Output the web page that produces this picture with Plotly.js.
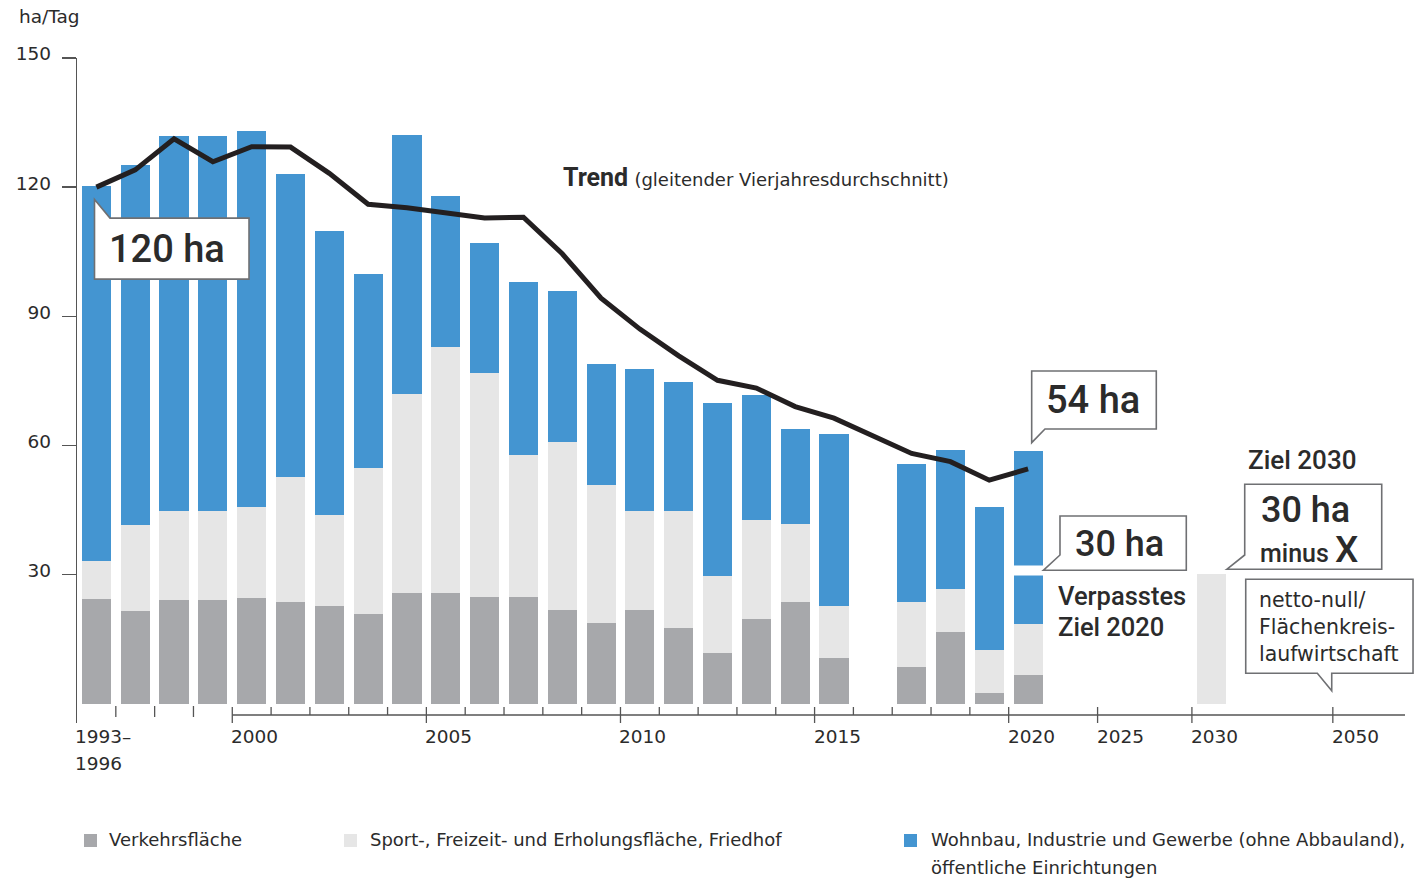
<!DOCTYPE html>
<html><head><meta charset="utf-8">
<script src="https://cdn.plot.ly/plotly-3.0.1.min.js"></script>
<style>html,body{margin:0;padding:0;background:#fff}#chart{width:1414px;height:879px}</style>
</head><body><div id="chart"></div>
<script>
// ---------------- data ----------------
const barLabels = ['1993–1996','1997','1998','1999','2000','2001','2002','2003','2004','2005','2006','2007','2008','2009','2010','2011','2012','2013','2014','2015','2017','2018','2019','2020'];
const barSlots  = [1996,1997,1998,1999,2000,2001,2002,2003,2004,2005,2006,2007,2008,2009,2010,2011,2012,2013,2014,2015,2017,2018,2019,2020];
const verkehr = [24.3,21.5,24.0,24.0,24.6,23.6,22.7,20.7,25.7,25.7,24.7,24.7,21.7,18.7,21.7,17.6,11.7,19.6,23.6,10.6,8.6,16.6,2.5,6.6];
const sport   = [8.8,19.9,20.7,20.7,21.1,29.1,21.0,34.1,46.3,57.2,52.2,33.1,39.1,32.1,23.1,27.2,18.0,23.0,18.0,12.1,14.9,10.1,10.0,11.9];
const wohnbau = [87.2,83.7,87.1,87.1,87.3,70.3,66.1,45.0,60.0,35.0,30.0,40.1,35.0,28.0,32.9,29.9,40.1,29.2,22.1,39.9,32.2,32.1,33.1,40.1];
const trendYears = [1996,1997,1998,1999,2000,2001,2002,2003,2004,2005,2006,2007,2008,2009,2010,2011,2012,2013,2014,2015,2016,2017,2018,2019,2020];
const trend = [120,124.0,131.2,125.9,129.4,129.3,123.2,116.0,115.2,114.0,112.8,113.0,104.5,94.2,87.0,80.8,75.1,73.3,69.0,66.3,62.2,58.1,56.2,51.9,54.5];
const ziel2020 = 30;
const ziel2030 = 30;
const ziel2030Year = 2030;
const nettoNullYear = 2050;
const majorTickYears = [2000,2005,2010,2015,2020,2025,2030,2050];
const majorTickLabels = ['2000','2005','2010','2015','2020','2025','2030','2050'];
const firstSlotLabel = ['1993–','1996'];
const yTicks = [30,60,90,120,150];
const legendNames = ['Verkehrsfläche','Sport-, Freizeit- und Erholungsfläche, Friedhof','Wohnbau, Industrie und Gewerbe (ohne Abbauland),<br>öffentliche Einrichtungen'];

// ---------------- styling / layout helpers ----------------
const C = {grey:'#a7a8ab', light:'#e6e6e6', blue:'#4495d1', line:'#231f20', text:'#2b2b2b', axis:'#555555', box:'#6f7073'};
const FONT = 'Roboto, "Liberation Sans", sans-serif';
const SMALL = '"DejaVu Sans", Roboto, sans-serif';
const W = 1414, H = 879, ML = 77, MR = 0, MT = 58, MB = 156;
// compressed time axis after 2020 (piecewise)
const AX = {years:[1996,2020,2025,2030,2050], pos:[1996,2020,2022.29,2024.72,2028.35]};
function xpos(y){
  for(let i=0;i<AX.years.length-1;i++){
    if(y<=AX.years[i+1]){
      const t=(y-AX.years[i])/(AX.years[i+1]-AX.years[i]);
      return AX.pos[i]+t*(AX.pos[i+1]-AX.pos[i]);
    }
  }
  return AX.pos[AX.pos.length-1];
}
const pxPerYear = 38.82;
const xRange = [1996, 1996 + (W-ML-MR)/pxPerYear];
const yRange = [-4.53, 150];
const plotW = W-ML-MR, plotH = H-MT-MB;
const fx = px => (px-ML)/plotW;
const fy = py => (H-MB-py)/plotH;

const shapes = [];
const annotations = [];

// callout box: anchor in data coords, points as screen-pixel offsets (dx right, dy down)
function callout(ax, ay, pts){
  const d = pts.map((p,i)=>(i?'L':'M')+p[0]+','+(-p[1])).join(' ')+' Z';
  shapes.push({type:'path', xref:'x', yref:'y', xsizemode:'pixel', ysizemode:'pixel',
    xanchor:ax, yanchor:ay, path:d, fillcolor:'#ffffff', line:{color:C.box, width:1.6}, layer:'above'});
}
function label(ax, ay, dx, dy, text, font, opts){
  annotations.push(Object.assign({x:ax, y:ay, xref:'x', yref:'y', xshift:dx, yshift:-dy, text:text, showarrow:false,
    xanchor:'center', yanchor:'middle', font:Object.assign({family:FONT, color:C.text}, font)}, opts||{}));
}
// multi-line text with explicit line pitch
function lines(ax, ay, dx, dy, arr, pitch, font, opts){
  arr.forEach((t,i)=>label(ax, ay, dx, dy+i*pitch, t, font, Object.assign({xanchor:'left'}, opts||{})));
}

// ---------------- x axis (custom drawn) ----------------
const tickLine = {color:C.axis, width:1.3};
shapes.push({type:'line', xref:'x', yref:'y', ysizemode:'pixel', yanchor:0, x0:xpos(2000), x1:xRange[1]-9/pxPerYear, y0:-11.5, y1:-11.5, line:tickLine, layer:'above'});
for(let y=1997; y<2020; y++){
  if(y%5===0) continue;
  const early = y<2000;
  shapes.push({type:'line', xref:'x', yref:'y', ysizemode:'pixel', yanchor:0, x0:xpos(y), x1:xpos(y),
    y0: early?-2.5:-3.5, y1: early?-13.5:-11.5, line:tickLine, layer:'above'});
}
const axisFont = {family:SMALL, size:18.5};
majorTickYears.forEach((y,i)=>{
  shapes.push({type:'line', xref:'x', yref:'y', ysizemode:'pixel', yanchor:0, x0:xpos(y), x1:xpos(y), y0:-3.5, y1:-19.5, line:tickLine, layer:'above'});
  label(xpos(y), 0, -3, 32.5, majorTickLabels[i], axisFont, {xanchor:'left'});
});
lines(xRange[0], 0, -4, 32.5, firstSlotLabel, 27, axisFont);

// ---------------- 2020 target gap ----------------
shapes.push({type:'rect', xref:'x', yref:'y', ysizemode:'pixel', yanchor:ziel2020,
  x0:xpos(2020)+0.5-0.42, x1:xpos(2020)+0.5+0.42, y0:-1, y1:9, fillcolor:'#ffffff', line:{width:0}, layer:'above'});

// ---------------- callouts ----------------
const big = size => ({family:FONT, size:size, weight:500});
const t0x = trendYears[0]+0.5, t0y = trend[0];
callout(t0x, t0y, [[-1.9,12.4],[-1.9,92],[152.6,92],[152.6,31],[13.6,31]]);
label(t0x, t0y, 70.6, 61.9, '120 ha', big(38));

const tEx = trendYears[trendYears.length-1]+0.5, tEy = trend[trend.length-1];
callout(tEx, tEy, [[3.6,-26.3],[3.6,-98],[128.2,-98],[128.2,-40],[16.9,-40]]);
label(tEx, tEy, 64.9, -69, '54 ha', big(38));

const z20x = xpos(2020)+0.5;
callout(z20x, ziel2020, [[15.2,-4.1],[31.9,-19.4],[31.9,-58.4],[158.2,-58.4],[158.2,-4.1]]);
label(z20x, ziel2020, 91.9, -30.4, '30 ha', big(36));
lines(z20x, ziel2020, 27.5, 21.6, ['Verpasstes','Ziel 2020'], 31, big(25.5));

const z30x = xpos(ziel2030Year)+0.5;
callout(z30x, ziel2030, [[15.4,-5.1],[33.4,-19.4],[33.4,-90.1],[170.4,-90.1],[170.4,-5.1]]);
label(z30x, ziel2030, 93.7, -64.4, '30 ha', big(36));
label(z30x, ziel2030, 46.7, -25, 'minus <span style="font-size:37px">X</span>', big(25), {xanchor:'left'});
label(z30x, ziel2030, 34.7, -114.4, 'Ziel 2030', big(26), {xanchor:'left'});

const nnx = xpos(nettoNullYear);
callout(nnx, 0, [[-1.1,-12.8],[-1.1,-30.2],[80.2,-30.2],[80.2,-124.2],[-87.1,-124.2],[-87.1,-30.2],[-15.5,-30.2]]);
lines(nnx, 0, -76, -103.5, ['netto-null/','Flächenkreis-','laufwirtschaft'], 27, {family:SMALL, size:20.5});

// ---------------- free texts ----------------
annotations.push({xref:'paper', yref:'paper', x:fx(17), y:fy(16), xanchor:'left', yanchor:'middle', showarrow:false,
  text:'ha/Tag', font:{family:SMALL, size:18.5, color:C.text}});
annotations.push({xref:'paper', yref:'paper', x:fx(561), y:fy(177), xanchor:'left', yanchor:'middle', showarrow:false,
  text:'<b>Trend</b> <span style="font-family:\'DejaVu Sans\';font-size:18px">(gleitender Vierjahresdurchschnitt)</span>', font:{family:FONT, size:25, color:C.text}});

// ---------------- legend (custom) ----------------
const legColors = [C.grey, C.light, C.blue];
const legBoxX = [84, 344, 904], legTextX = [109, 370, 931];
legendNames.forEach((n,i)=>{
  shapes.push({type:'rect', xref:'paper', yref:'paper', x0:fx(legBoxX[i]), x1:fx(legBoxX[i]+13), y0:fy(847), y1:fy(834), fillcolor:legColors[i], line:{width:0}});
  n.split('<br>').forEach((t,j)=>{
    annotations.push({xref:'paper', yref:'paper', x:fx(legTextX[i]-2), y:fy(840+27*j), xanchor:'left', yanchor:'middle', showarrow:false,
      text:t, font:{family:SMALL, size:18, color:C.text}});
  });
});

// ---------------- traces ----------------
const bx = barSlots.map(y=>xpos(y)+0.5);
const barW = 0.75;
const traces = [
  {type:'bar', name:legendNames[0], x:bx, y:verkehr, width:barW, marker:{color:C.grey, line:{width:0}}, customdata:barLabels, hovertemplate:'%{customdata}: %{y} ha<extra></extra>'},
  {type:'bar', name:legendNames[1], x:bx, y:sport, width:barW, marker:{color:C.light, line:{width:0}}, customdata:barLabels, hovertemplate:'%{customdata}: %{y} ha<extra></extra>'},
  {type:'bar', name:legendNames[2], x:bx, y:wohnbau, width:barW, marker:{color:C.blue, line:{width:0}}, customdata:barLabels, hovertemplate:'%{customdata}: %{y} ha<extra></extra>'},
  {type:'bar', name:'Ziel 2030', x:[xpos(ziel2030Year)+0.5], y:[ziel2030], width:barW, marker:{color:C.light, line:{width:0}}},
  {type:'scatter', mode:'lines', name:'Trend', x:trendYears.map(y=>y+0.5), y:trend, line:{color:C.line, width:5, shape:'linear'}}
];

const layout = {
  width:W, height:H, margin:{l:ML, r:MR, t:MT, b:MB, pad:0},
  paper_bgcolor:'#ffffff', plot_bgcolor:'#ffffff',
  barmode:'stack', showlegend:false,
  font:{family:FONT, size:18, color:C.text},
  xaxis:{range:xRange, showgrid:false, zeroline:false, showline:false, showticklabels:false, ticks:'', fixedrange:true},
  yaxis:{range:yRange, showgrid:false, zeroline:false, showline:true, linecolor:C.axis, linewidth:1.3,
    tickvals:yTicks, ticktext:yTicks.map(String), ticks:'outside', ticklen:14, tickwidth:1.3, tickcolor:C.axis,
    tickfont:{family:SMALL, size:18.5, color:C.text}, ticklabelstandoff:7, ticklabelshift:-4, fixedrange:true},
  shapes:shapes, annotations:annotations
};
Plotly.newPlot('chart', traces, layout, {displayModeBar:false, staticPlot:true});
</script></body></html>
